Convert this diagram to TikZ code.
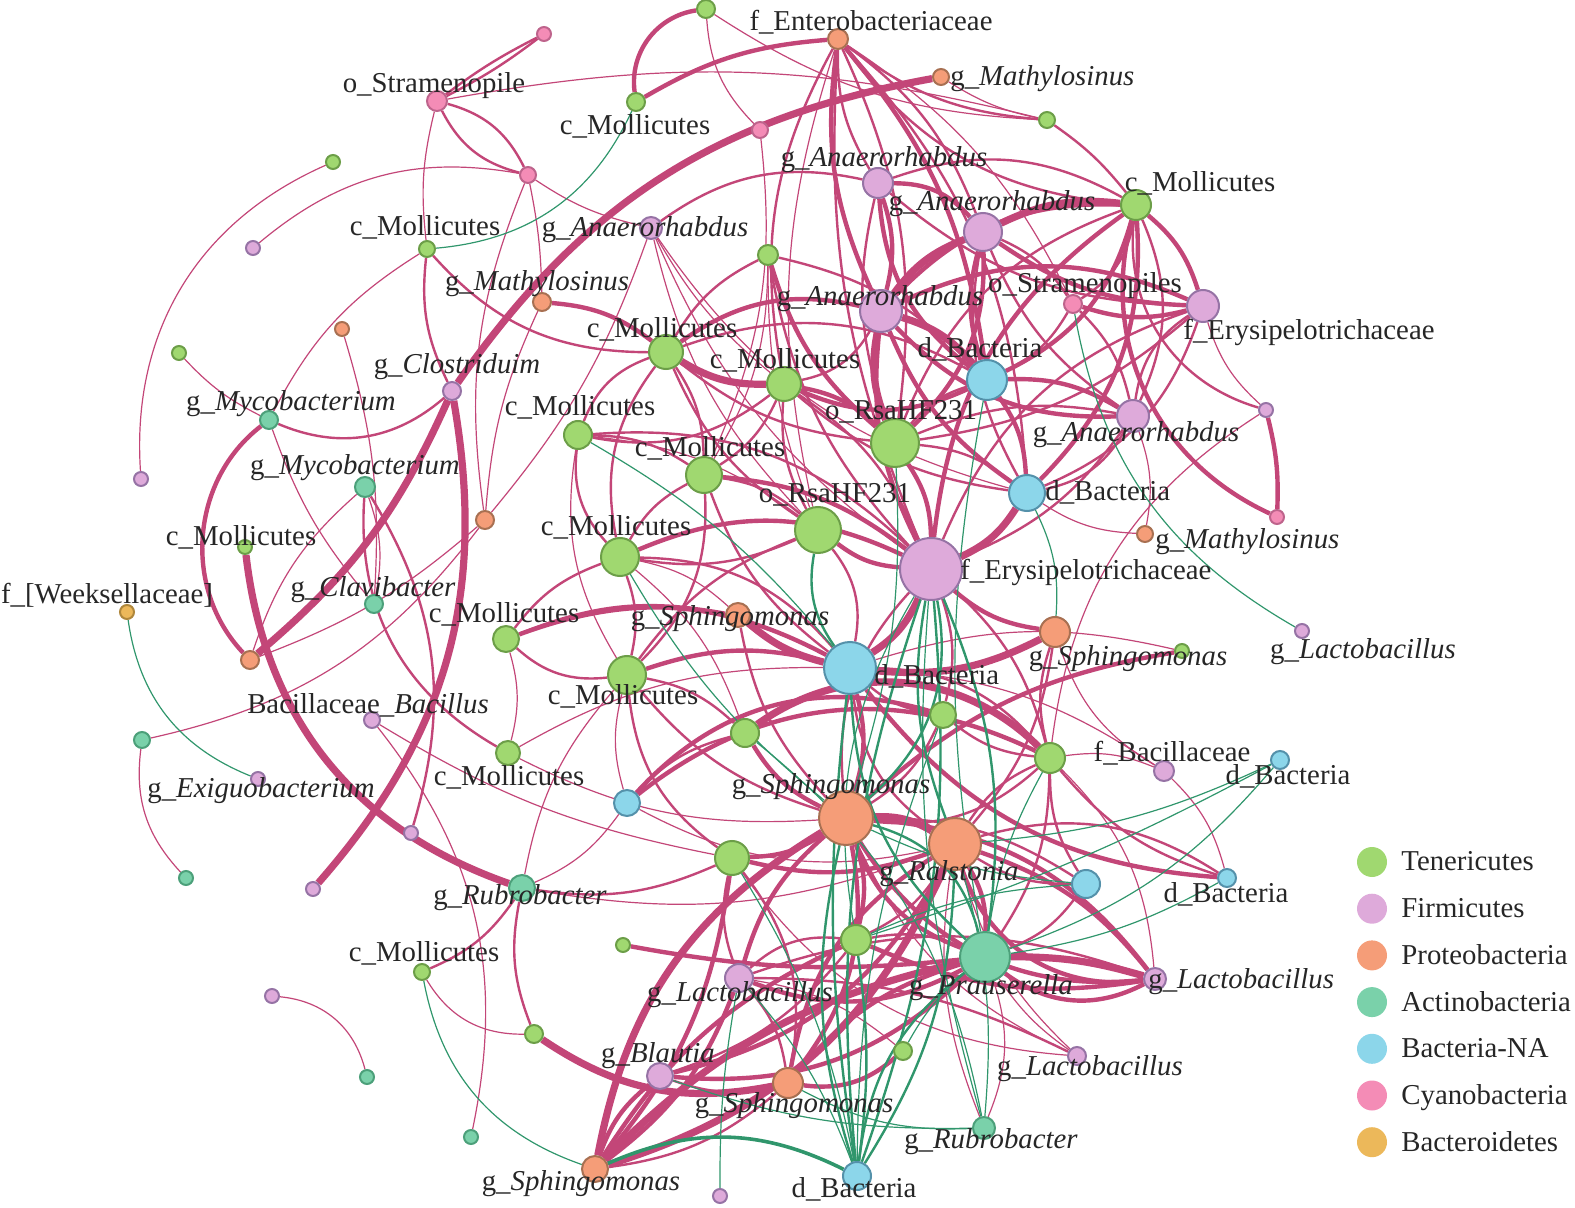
\documentclass[tikz,border=0pt]{standalone}
\usepackage{fontspec}
\setmainfont{Liberation Serif}
\usetikzlibrary{backgrounds}
\definecolor{tenc}{RGB}{160,216,112}\definecolor{tenb}{RGB}{108,158,72}
\definecolor{firc}{RGB}{222,170,218}\definecolor{firb}{RGB}{150,115,165}
\definecolor{proc}{RGB}{245,157,120}\definecolor{prob}{RGB}{168,112,82}
\definecolor{actc}{RGB}{122,209,170}\definecolor{actb}{RGB}{76,160,122}
\definecolor{bacc}{RGB}{140,214,234}\definecolor{bacb}{RGB}{84,145,170}
\definecolor{cyac}{RGB}{244,140,182}\definecolor{cyab}{RGB}{190,100,140}
\definecolor{bdec}{RGB}{236,184,90}\definecolor{bdeb}{RGB}{175,135,60}
\definecolor{lnk}{RGB}{195,70,120}
\definecolor{gnk}{RGB}{48,150,108}
\tikzset{
  vtx/.style={circle, inner sep=0pt, line width=1pt},
  tene/.style={vtx, fill=tenc, draw=tenb},
  firm/.style={vtx, fill=firc, draw=firb},
  prot/.style={vtx, fill=proc, draw=prob},
  acti/.style={vtx, fill=actc, draw=actb},
  bact/.style={vtx, fill=bacc, draw=bacb},
  cyano/.style={vtx, fill=cyac, draw=cyab},
  bdet/.style={vtx, fill=bdec, draw=bdeb},
  lbl/.style={font=\fontsize{14.4}{16}\selectfont, inner sep=0pt, text height=0.69em, text depth=0.2em, text=black!85, yshift=-2pt},
  lk1/.style={draw=lnk, line width=0.6pt},
  lk2/.style={draw=lnk, line width=1.2pt},
  lk3/.style={draw=lnk, line width=2.2pt},
  lk4/.style={draw=lnk, line width=3.6pt},
  gk1/.style={draw=gnk, line width=0.6pt},
  gk2/.style={draw=gnk, line width=1.2pt},
  gk3/.style={draw=gnk, line width=1.8pt}
}

\begin{document}
\begin{tikzpicture}[x=0.5pt, y=-0.5pt]
  \useasboundingbox (0,0) rectangle (1575,1208);

  % vertices
  \node[cyano, minimum size=10pt] (cy1) at (437,101) {};
  \node[tene, minimum size=7pt] (te1) at (333,162) {};
  \node[firm, minimum size=7pt] (fi1) at (253,248) {};
  \node[tene, minimum size=8pt] (te2) at (427,249) {};
  \node[prot, minimum size=7pt] (pr1) at (342,329) {};
  \node[tene, minimum size=7pt] (te3) at (179,353) {};
  \node[firm, minimum size=9pt] (fi2) at (452,391) {};
  \node[cyano, minimum size=8pt] (cy2) at (528,175) {};
  \node[tene, minimum size=9pt] (te4) at (706,9) {};
  \node[cyano, minimum size=7pt] (cy3) at (544,34) {};
  \node[prot, minimum size=10pt] (pr2) at (838,39) {};
  \node[prot, minimum size=8pt] (pr3) at (941,77) {};
  \node[tene, minimum size=8pt] (te5) at (1047,120) {};
  \node[tene, minimum size=9pt] (te6) at (636,102) {};
  \node[cyano, minimum size=8pt] (cy4) at (760,130) {};
  \node[firm, minimum size=15pt] (fi3) at (878,183) {};
  \node[firm, minimum size=19pt] (fi4) at (983,232) {};
  \node[firm, minimum size=11pt] (fi5) at (651,228) {};
  \node[tene, minimum size=10pt] (te7) at (768,255) {};
  \node[prot, minimum size=9pt] (pr4) at (542,302) {};
  \node[tene, minimum size=17pt] (te8) at (666,352) {};
  \node[tene, minimum size=17pt] (te9) at (784,384) {};
  \node[firm, minimum size=21pt] (fi6) at (881,311) {};
  \node[bact, minimum size=20pt] (ba1) at (987,380) {};
  \node[cyano, minimum size=9pt] (cy5) at (1073,304) {};
  \node[tene, minimum size=15pt] (te10) at (1136,205) {};
  \node[firm, minimum size=16pt] (fi7) at (1203,306) {};
  \node[firm, minimum size=7pt] (fi8) at (1266,410) {};
  \node[cyano, minimum size=7pt] (cy6) at (1277,517) {};
  \node[firm, minimum size=16pt] (fi9) at (1133,416) {};
  \node[tene, minimum size=24pt] (te11) at (895,443) {};
  \node[bact, minimum size=18pt] (ba2) at (1027,493) {};
  \node[prot, minimum size=8pt] (pr5) at (1145,534) {};
  \node[firm, minimum size=31pt] (fi10) at (931,569) {};
  \node[tene, minimum size=23pt] (te12) at (818,530) {};
  \node[tene, minimum size=18pt] (te13) at (704,475) {};
  \node[tene, minimum size=14pt] (te14) at (578,435) {};
  \node[tene, minimum size=19pt] (te15) at (620,557) {};
  \node[prot, minimum size=12pt] (pr6) at (738,615) {};
  \node[bact, minimum size=26pt] (ba3) at (850,668) {};
  \node[prot, minimum size=15pt] (pr7) at (1055,632) {};
  \node[tene, minimum size=7pt] (te16) at (1182,651) {};
  \node[firm, minimum size=7pt] (fi23) at (1302,631) {};
  \node[tene, minimum size=19pt] (te17) at (627,675) {};
  \node[tene, minimum size=13pt] (te18) at (506,639) {};
  \node[tene, minimum size=13pt] (te19) at (943,715) {};
  \node[tene, minimum size=14pt] (te20) at (745,733) {};
  \node[tene, minimum size=15pt] (te21) at (1050,758) {};
  \node[firm, minimum size=10pt] (fi11) at (1164,771) {};
  \node[bact, minimum size=9pt] (ba4) at (1280,760) {};
  \node[tene, minimum size=12pt] (te22) at (508,753) {};
  \node[bact, minimum size=13pt] (ba5) at (627,803) {};
  \node[prot, minimum size=27pt] (pr8) at (846,818) {};
  \node[prot, minimum size=26pt] (pr9) at (955,844) {};
  \node[tene, minimum size=17pt] (te23) at (732,858) {};
  \node[bact, minimum size=14pt] (ba6) at (1086,884) {};
  \node[bact, minimum size=9pt] (ba7) at (1227,878) {};
  \node[acti, minimum size=13pt] (ac1) at (522,888) {};
  \node[tene, minimum size=7pt] (te24) at (623,945) {};
  \node[tene, minimum size=15pt] (te25) at (856,940) {};
  \node[acti, minimum size=25pt] (ac2) at (985,957) {};
  \node[firm, minimum size=14pt] (fi12) at (739,978) {};
  \node[firm, minimum size=11pt] (fi13) at (1155,979) {};
  \node[tene, minimum size=8pt] (te26) at (422,972) {};
  \node[tene, minimum size=9pt] (te27) at (534,1034) {};
  \node[tene, minimum size=9pt] (te28) at (903,1051) {};
  \node[firm, minimum size=9pt] (fi14) at (1077,1056) {};
  \node[firm, minimum size=13pt] (fi15) at (660,1076) {};
  \node[prot, minimum size=15pt] (pr10) at (788,1083) {};
  \node[acti, minimum size=11pt] (ac3) at (984,1128) {};
  \node[prot, minimum size=13pt] (pr11) at (595,1169) {};
  \node[bact, minimum size=14pt] (ba8) at (857,1176) {};
  \node[firm, minimum size=7pt] (fi16) at (720,1196) {};
  \node[acti, minimum size=7pt] (ac4) at (471,1137) {};
  \node[acti, minimum size=7pt] (ac5) at (367,1077) {};
  \node[firm, minimum size=7pt] (fi17) at (272,996) {};
  \node[acti, minimum size=7pt] (ac6) at (186,878) {};
  \node[firm, minimum size=7pt] (fi18) at (313,889) {};
  \node[firm, minimum size=7pt] (fi19) at (411,833) {};
  \node[acti, minimum size=9pt] (ac7) at (269,420) {};
  \node[firm, minimum size=7pt] (fi20) at (141,479) {};
  \node[acti, minimum size=10pt] (ac8) at (365,487) {};
  \node[prot, minimum size=9pt] (pr12) at (485,520) {};
  \node[tene, minimum size=7pt] (te29) at (245,547) {};
  \node[bdet, minimum size=7pt] (de1) at (127,612) {};
  \node[acti, minimum size=9pt] (ac9) at (374,604) {};
  \node[prot, minimum size=9pt] (pr13) at (250,660) {};
  \node[firm, minimum size=8pt] (fi21) at (372,720) {};
  \node[acti, minimum size=8pt] (ac10) at (142,740) {};
  \node[firm, minimum size=7pt] (fi22) at (258,779) {};

  % links
  \begin{pgfonlayer}{background}
  \foreach \a/\b/\k in {te1/fi20/-35, fi1/cy2/25, cy1/te5/12, te4/cy4/-20, te4/te5/-15,
      cy1/te2/-10, cy2/fi5/-10, cy2/pr4/5, cy2/pr12/-15, pr1/ac9/10, te3/ac7/-10,
      ac7/ac9/-10, ac8/ac9/15, ac8/pr13/-15, ac10/pr12/-20, ac10/ac6/-25, fi17/ac5/35,
      ac4/fi21/-25, fi21/te23/-10, te26/te27/-30, pr12/pr13/10, pr12/fi5/-10, fi8/te21/-25,
      fi8/fi7/15, cy4/te13/15, fi5/te12/-15, fi5/ba2/-20, fi5/fi10/-15, fi5/te9/-10,
      te7/te13/15, te7/te12/-10, pr5/ba2/15, pr5/fi9/-15, te14/te17/-20, te15/te20/15,
      te18/te22/15, te17/ba5/-15, te22/pr8/-15, te22/ba3/15, ba5/ac1/15, ba5/pr9/-20,
      fi14/pr8/20, fi14/pr9/15, fi14/te23/25, fi14/ac2/10, ac3/pr9/15, ac3/ac2/-20,
      te28/fi12/-15, fi11/te21/-15, fi11/pr7/20, fi11/ba3/-15, fi13/te21/-20, te2/ac7/-15,
      pr4/pr12/-10, te16/ba3/-15, ac1/te17/15, ac1/pr9/-15, te14/te12/15, pr2/te12/-15,
      te15/pr6/15, fi11/ba7/15, pr3/te5/-10, pr2/cy5/15}
    \draw[lk1] (\a) to[bend left=\k] (\b);
  \foreach \a/\b/\k in {te2/te8/-15, te2/fi2/-10, ac7/fi2/-20, cy1/cy3/3, cy3/cy1/3,
      cy1/cy2/15, cy2/cy1/15, fi3/fi5/-15, te26/ac1/-10, te27/ac1/10, fi19/ac8/-15,
      ac8/te22/-20, te5/te10/5, te10/fi8/-25, ba7/te21/10, pr2/te11/10, pr2/fi10/-8,
      pr2/ba2/12, pr2/fi3/-10, pr2/fi4/10, pr2/te9/-12, fi6/te9/15, te7/fi10/-10,
      te7/ba1/10, fi3/te11/-10, fi3/te10/15, fi3/fi7/-12, fi4/cy5/10, ba1/cy5/-10,
      te10/cy5/15, cy5/fi9/10, fi7/fi9/-15, fi7/ba2/15, fi4/fi9/-10, fi7/te11/10,
      te10/te11/-15, fi9/fi10/10, fi9/te11/-10, te10/fi9/15, fi4/ba2/-12, te11/ba2/10,
      ba1/te11/-10, fi9/ba2/15, fi7/fi10/-15, te8/te13/10, te8/te14/-15, te8/te12/-10,
      te8/ba1/15, te8/te11/-10, te8/te7/10, te8/te15/-15, te9/te13/10, te9/te12/-10,
      te9/fi10/10, te9/te14/15, te9/ba2/-10, te14/te13/10, te14/te15/-15, te14/fi10/15,
      te13/te12/10, te13/te15/-10, te13/te17/15, te13/ba3/-10, te12/te15/10, te12/ba3/15,
      te12/te17/-10, te15/te17/10, te15/te18/-10, te15/ba3/15, te17/pr8/-10, te17/te20/10,
      te17/te23/-15, te17/te18/15, pr6/pr8/-10, te18/pr6/10, fi10/te21/10, fi10/pr8/-15,
      fi10/te19/10, ba3/te19/-10, ba3/te21/15, ba3/pr9/-15, pr7/te21/-10, pr7/pr9/10,
      te19/te21/-10, te19/pr8/10, te20/ba5/-10, te21/pr8/15, te21/pr9/-10, te21/ac2/10,
      te21/ba6/-10, pr8/ba6/10, pr9/ba6/-10, pr9/te25/10, te23/ac1/10, te23/fi12/-10,
      te23/pr10/15, ac2/te25/-10, te25/fi15/10, te25/fi12/-15, fi12/pr10/10, fi15/pr10/-10,
      pr10/pr11/10, ba7/pr9/-15, ba6/ac2/10, fi13/fi12/-12, fi14/fi12/-8, pr2/te10/-15,
      pr2/te5/-10}
    {\pgfmathsetmacro\kk{1.6*\k}
     \draw[lk2] (\a) to[bend left=\kk] (\b);}
  \foreach \a/\b/\k in {ac7/pr13/-30, te24/ac2/-5, te18/ba3/15, ba3/ba7/-15, fi15/pr11/-10,
      pr9/fi13/10, pr8/fi13/15, te25/fi13/-10, ac2/fi15/15, pr10/te28/-15, ba5/te21/20,
      te19/ba5/-20, pr2/fi6/-10, pr2/ba1/10, fi3/fi4/15, fi4/ba1/-10, fi6/te10/15,
      ba1/te10/-15, te10/fi7/10, fi4/fi7/-10, fi6/fi7/15, cy5/fi7/-10, ba1/fi9/10,
      fi6/fi9/-15, ba1/ba2/10, fi6/ba2/-10, te10/ba2/15, te10/fi10/-15, te11/fi10/10,
      fi6/fi10/-10, fi4/te11/15, fi3/ba1/-15, fi3/fi6/10, te8/pr4/-10, te8/fi6/15,
      te9/ba1/-15, te9/te11/10, te7/te11/-10, te13/fi10/10, te12/fi10/-10, te15/fi10/15,
      te17/ba3/10, fi10/pr7/-10, ba3/pr8/10, te20/pr8/-10, pr8/te23/10, pr8/ac2/-15,
      pr8/te25/10, pr8/fi12/-10, pr8/pr10/15, pr9/ac2/10, pr9/pr10/-15, pr9/fi15/15,
      te23/pr9/-10, te23/pr11/10, ac2/pr10/-10, ac2/fi12/15, te25/pr11/-10, fi12/pr11/10,
      te16/pr8/-10, cy6/te10/25, fi8/cy6/5, te4/te6/-28, te6/pr2/8, ac2/fi13/-20,
      pr9/fi13/-25, pr8/fi13/-20}
    {\pgfmathsetmacro\kk{1.6*\k}
     \draw[lk3] (\a) to[bend left=\kk] (\b);}
  \foreach \a/\b/\k in {te29/ac1/-20, fi18/fi2/-16, pr13/fi2/-8, fi2/pr3/14, te27/pr10/-14,
      pr6/ba3/-8, ba3/pr7/-10, pr8/pr9/10, pr8/pr11/-15, pr9/pr11/15, ac2/pr11/-10,
      te20/te21/25, fi4/fi6/-10, fi4/te10/10, fi6/ba1/10, fi6/te11/-10, ba2/fi10/10,
      te8/te9/-10, fi10/ba3/10, ac2/fi13/5}
    {\pgfmathsetmacro\kk{1.6*\k}
     \draw[lk4] (\a) to[bend left=\kk] (\b);}
  \foreach \a/\b/\k in {te2/te6/-30, de1/fi22/-30, cy5/fi23/-25, te26/pr11/-30, fi16/fi12/5,
      te14/ba3/10, te15/pr8/-10, te11/pr8/10, fi10/ac3/-10, ac3/pr10/15, fi15/ac3/-10,
      ba1/ac2/-10, ba2/pr7/15, ba4/ac2/15, ba4/pr9/10, ba4/te25/5, ba7/ac2/10, ba6/pr8/10,
      ba6/te25/-10, te21/ac2/-10, te19/ba8/-10, ac3/te20/-20, te28/ac2/10, te23/ba8/10,
      fi12/ba8/10, fi10/te25/-20, pr9/ac3/10}
    \draw[gk1] (\a) to[bend left=\k] (\b);
  \foreach \a/\b/\k in {fi10/ba8/-8, fi10/ba8/8, fi10/pr9/-10, fi10/ac2/10, ba3/ba8/-5,
      ba3/ac2/-15, pr9/ba8/10, pr8/ba8/-10, ac2/ba8/-15, te25/ba8/5, pr8/ac2/20, te12/ba3/-15,
      fi10/pr8/20}
    {\pgfmathsetmacro\kk{1.5*\k}
     \draw[gk2] (\a) to[bend left=\kk] (\b);}
  \draw[gk3] (pr11) to[bend left=25] (ba8);
  \end{pgfonlayer}

  % labels
  \node[lbl] (l-cy1) at (434,84) {o\_Stramenopile};
  \node[lbl] (l-te2) at (425,227) {c\_Mollicutes};
  \node[lbl] (l-fi2) at (457,365) {g\_\textit{Clostriduim}};
  \node[lbl] (l-pr2) at (871,22) {f\_Enterobacteriaceae};
  \node[lbl, anchor=west] (l-pr3) at (950,77) {g\_\textit{Mathylosinus}};
  \node[lbl] (l-te6) at (635,126) {c\_Mollicutes};
  \node[lbl] (l-fi3) at (884,158) {g\_\textit{Anaerorhabdus}};
  \node[lbl] (l-fi4) at (992,202) {g\_\textit{Anaerorhabdus}};
  \node[lbl] (l-fi5) at (645,228) {g\_\textit{Anaerorhabdus}};
  \node[lbl] (l-pr4) at (537,282) {g\_\textit{Mathylosinus}};
  \node[lbl] (l-te8) at (662,329) {c\_Mollicutes};
  \node[lbl] (l-te9) at (785,360) {c\_Mollicutes};
  \node[lbl] (l-fi6) at (880,297) {g\_\textit{Anaerorhabdus}};
  \node[lbl] (l-ba1) at (980,349) {d\_Bacteria};
  \node[lbl] (l-cy5) at (1085,284) {o\_Stramenopiles};
  \node[lbl] (l-te10) at (1200,183) {c\_Mollicutes};
  \node[lbl] (l-fi7) at (1309,331) {f\_Erysipelotrichaceae};
  \node[lbl] (l-fi9) at (1136,433) {g\_\textit{Anaerorhabdus}};
  \node[lbl] (l-te11) at (901,411) {o\_RsaHF231};
  \node[lbl, anchor=west] (l-ba2) at (1045,492) {d\_Bacteria};
  \node[lbl, anchor=west] (l-pr5) at (1155,540) {g\_\textit{Mathylosinus}};
  \node[lbl, anchor=west] (l-fi10) at (960,571) {f\_Erysipelotrichaceae};
  \node[lbl] (l-te12) at (835,494) {o\_RsaHF231};
  \node[lbl] (l-te13) at (710,448) {c\_Mollicutes};
  \node[lbl] (l-te14) at (580,407) {c\_Mollicutes};
  \node[lbl] (l-te15) at (616,527) {c\_Mollicutes};
  \node[lbl] (l-pr6) at (730,617) {g\_\textit{Sphingomonas}};
  \node[lbl, anchor=west] (l-ba3) at (874,676) {d\_Bacteria};
  \node[lbl] (l-pr7) at (1128,657) {g\_\textit{Sphingomonas}};
  \node[lbl] (l-fi23) at (1363,650) {g\_\textit{Lactobacillus}};
  \node[lbl] (l-te17) at (623,696) {c\_Mollicutes};
  \node[lbl] (l-te18) at (504,614) {c\_Mollicutes};
  \node[lbl] (l-fi11) at (1172,753) {f\_Bacillaceae};
  \node[lbl] (l-ba4) at (1288,776) {d\_Bacteria};
  \node[lbl] (l-te22) at (509,777) {c\_Mollicutes};
  \node[lbl] (l-pr8) at (831,785) {g\_\textit{Sphingomonas}};
  \node[lbl] (l-pr9) at (949,872) {g\_\textit{Ralstonia}};
  \node[lbl] (l-ba7) at (1226,894) {d\_Bacteria};
  \node[lbl] (l-ac1) at (520,896) {g\_\textit{Rubrobacter}};
  \node[lbl] (l-ac2) at (991,986) {g\_\textit{Prauserella}};
  \node[lbl] (l-fi12) at (740,993) {g\_\textit{Lactobacillus}};
  \node[lbl, anchor=west] (l-fi13) at (1148,980) {g\_\textit{Lactobacillus}};
  \node[lbl] (l-te26) at (424,953) {c\_Mollicutes};
  \node[lbl] (l-fi14) at (1090,1067) {g\_\textit{Lactobacillus}};
  \node[lbl] (l-fi15) at (658,1054) {g\_\textit{Blautia}};
  \node[lbl] (l-pr10) at (794,1104) {g\_\textit{Sphingomonas}};
  \node[lbl] (l-ac3) at (991,1140) {g\_\textit{Rubrobacter}};
  \node[lbl] (l-pr11) at (581,1182) {g\_\textit{Sphingomonas}};
  \node[lbl] (l-ba8) at (854,1189) {d\_Bacteria};
  \node[lbl] (l-ac7) at (291,402) {g\_\textit{Mycobacterium}};
  \node[lbl] (l-ac8) at (355,466) {g\_\textit{Mycobacterium}};
  \node[lbl] (l-te29) at (241,537) {c\_Mollicutes};
  \node[lbl] (l-de1) at (107,595) {f\_[Weeksellaceae]};
  \node[lbl] (l-ac9) at (373,588) {g\_\textit{Clavibacter}};
  \node[lbl] (l-fi21) at (368,705) {Bacillaceae\_\textit{Bacillus}};
  \node[lbl] (l-fi22) at (261,789) {g\_\textit{Exiguobacterium}};

  % legend
  \foreach \c/\t [count=\i] in {tenc/Tenericutes, firc/Firmicutes, proc/Proteobacteria,
      actc/Actinobacteria, bacc/Bacteria-NA, cyac/Cyanobacteria, bdec/Bacteroidetes} {
    \node[circle, inner sep=0pt, fill=\c, minimum size=15pt] (key\i) at (1372,815.3+46.7*\i) {};
    \node[lbl, anchor=west] (keytext\i) at (1401,815.3+46.7*\i) {\t};
  }
\end{tikzpicture}
\end{document}
